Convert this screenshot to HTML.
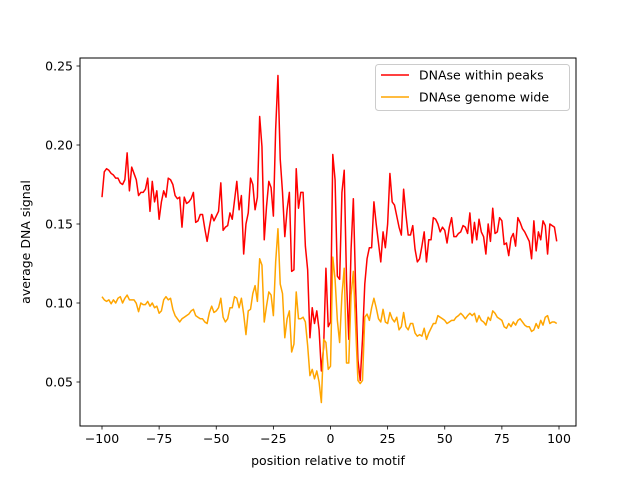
<!DOCTYPE html>
<html><head><meta charset="utf-8"><style>
html,body{margin:0;padding:0;background:#fff;}
svg{display:block;font-family:"DejaVu Sans","Liberation Sans",sans-serif;}
</style></head><body>
<svg id="chart" width="640" height="480">
<rect x="0" y="0" width="640" height="480" fill="#fff"/>
<g id="plot"></g>
</svg>
<script>
const xTicks = [-100, -75, -50, -25, 0, 25, 50, 75, 100];
const yTicks = [0.05, 0.10, 0.15, 0.20, 0.25];
const yTickLabels = ["0.05", "0.10", "0.15", "0.20", "0.25"];
const seriesNames = ["DNAse within peaks", "DNAse genome wide"];
const redValues = [
.167,.183,.185,.184,.182,.181,.179,.179,.176,.175,.178,.195,.171,.186,.182,.178,.168,.170,.170,.172,
.179,.158,.177,.164,.171,.153,.164,.171,.167,.179,.178,.175,.168,.166,.167,.148,.167,.163,.164,.166,
.170,.151,.152,.156,.156,.147,.139,.148,.156,.152,
.155,.158,.176,.146,.148,.149,.157,.153,.165,.177,.159,.168,.131,.150,.157,.179,.175,.159,.167,.218,
.199,.140,.161,.177,.173,.155,.210,.244,.191,.170,.142,.159,.170,.120,.121,.185,.160,.170,.170,.136,
.121,.078,.097,.087,.095,.083,.057,.072,.122,.085,.088,.194,.178,.117,.115,.170,.184,.115,.077,.134,
.166,.110,.064,.051,.077,.112,.128,.135,.135,.164,.150,.138,.126,.145,.135,.150,.182,.164,.162,.155,
.148,.143,.172,.156,.143,.143,.149,.134,.126,.128,.136,.145,.126,.140,.140,.154,.153,.150,.145,.148,
.146,.138,.148,.154,.142,.142,.144,.145,.149,.148,.144,.157,.138,.151,.140,.153,.145,.142,.131,.150,
.139,.160,.144,.145,.154,.152,.137,.138,.130,.141,.144,.136,.154,.151,.147,.145,.142,.139,.128,.152,
.133,.145,.140,.152,.149,.131,.150,.149,.148,.139];
const orangeValues = [
.104,.102,.101,.102,.0995,.102,.100,.103,.104,.100,.103,.105,.102,.102,.102,.0998,.0945,.100,.099,.099,
.101,.098,.100,.097,.098,.0935,.095,.102,.104,.102,.103,.096,.092,.090,.088,.090,.091,.092,.093,.095,
.096,.092,.091,.090,.090,.088,.087,.094,.098,.094,
.095,.097,.103,.091,.088,.090,.097,.097,.104,.103,.097,.103,.093,.080,.095,.096,.106,.111,.101,.128,
.124,.088,.098,.107,.105,.092,.126,.147,.112,.106,.078,.090,.095,.069,.074,.107,.090,.090,.091,.088,
.073,.054,.058,.052,.057,.050,.037,.077,.075,.058,.060,.129,.115,.089,.075,.105,.122,.062,.062,.105,
.120,.085,.051,.049,.051,.091,.093,.089,.097,.103,.097,.090,.088,.096,.088,.087,.094,.090,.088,.091,
.083,.085,.094,.085,.083,.087,.087,.081,.079,.080,.079,.084,.077,.081,.084,.087,.087,.092,.091,.090,
.089,.087,.088,.089,.089,.091,.092,.0935,.092,.090,.092,.0935,.092,.0935,.088,.092,.089,.088,.086,.091,
.089,.095,.0935,.091,.090,.089,.085,.084,.087,.085,.088,.086,.089,.090,.088,.086,.085,.085,.082,.083,
.087,.084,.089,.086,.091,.092,.087,.088,.088,.087];

const L=80,R=576,T=58,B=426;
const xScale = v => 102 + (v + 100) * (457 / 200);
const yScale = v => 382 - (v - 0.05) * (316 / 0.2);
const NS="http://www.w3.org/2000/svg";
const g=document.getElementById('plot');
function mk(tag, attrs, parent){const e=document.createElementNS(NS,tag);for(const k in attrs)e.setAttribute(k,attrs[k]);(parent||g).appendChild(e);return e;}

function drawSeries(vals, color, name){
  const pts = vals.map((v,i)=>xScale(-100+i).toFixed(2)+','+yScale(v).toFixed(2)).join(' ');
  const p = mk('polyline',{points:pts,fill:'none',stroke:color,'stroke-width':1.5,'stroke-linejoin':'round'});
  
  
}
drawSeries(redValues,'#ff0000','series-dnase-within-peaks');
drawSeries(orangeValues,'#ffa500','series-dnase-genome-wide');

const frame = mk('rect',{x:L,y:T,width:R-L,height:B-T,fill:'none',stroke:'#000','stroke-width':1});



xTicks.forEach(t=>{
  const x=xScale(t);
  const ln = mk('line',{x1:x,x2:x,y1:B,y2:B+3.5,stroke:'#000','stroke-width':0.8});
  
  
  const tx = mk('text',{x:x,y:B+17,'text-anchor':'middle','font-size':'12.5px',fill:'#000'});
  tx.textContent = t < 0 ? '\u2212'+Math.abs(t) : String(t);
  
  
});
yTicks.forEach((t,i)=>{
  const y=yScale(t);
  const ln = mk('line',{x1:L-3.5,x2:L,y1:y,y2:y,stroke:'#000','stroke-width':0.8});
  
  
  const tx = mk('text',{x:L-7,y:y+4.5,'text-anchor':'end','font-size':'12.5px',fill:'#000'});
  tx.textContent = yTickLabels[i];
  
  
});
const xl = mk('text',{x:(L+R)/2,y:465,'text-anchor':'middle','font-size':'12.5px',fill:'#000'});
xl.textContent='position relative to motif';


const yl = mk('text',{x:0,y:0,'text-anchor':'middle','font-size':'12.5px',fill:'#000',transform:'translate(30,242) rotate(-90)'});
yl.textContent='average DNA signal';



const leg = mk('g',{});


mk('rect',{x:375.5,y:64.5,width:194,height:46,rx:3,fill:'#fff',stroke:'#ccc','stroke-width':1},leg);
const colors=['#ff0000','#ffa500'];
seriesNames.forEach((n,i)=>{
  const y=75+i*22;
  const e = mk('g',{},leg);
  
  
  mk('line',{x1:381,x2:409,y1:y,y2:y,stroke:colors[i],'stroke-width':1.5},e);
  const t = mk('text',{x:419,y:y+4.5,'font-size':'12.5px',fill:'#000'},e);
  t.textContent=n;
});
</script>
</body></html>
